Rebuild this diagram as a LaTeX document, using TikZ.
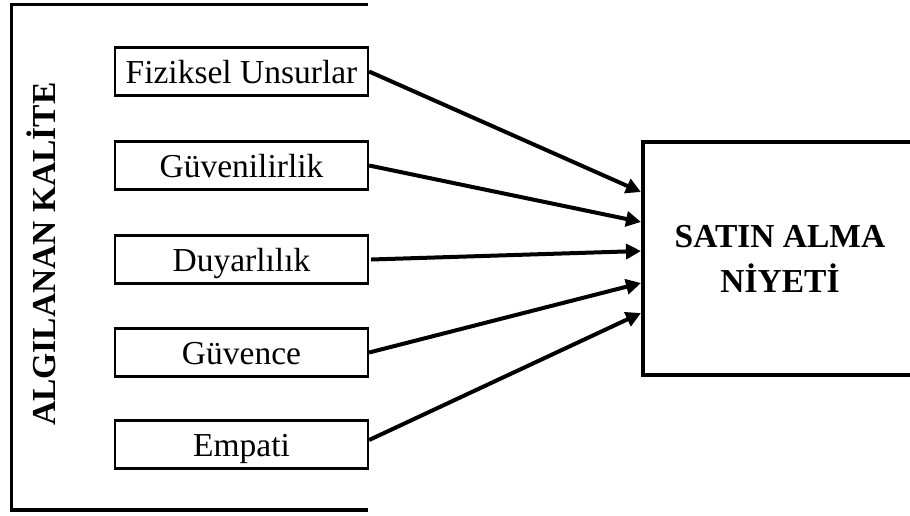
\documentclass[tikz,border=0pt]{standalone}
\usepackage{fontspec}
\setmainfont{Liberation Serif}
\usetikzlibrary{arrows.meta}
\begin{document}
\begin{tikzpicture}[x=0.5pt,y=-0.5pt,
  dim/.style={draw, line width=1.1pt, minimum width=126.5pt, minimum height=24pt,
    inner sep=0pt, text height=11.5pt, text depth=0pt,
    font=\fontsize{16.75}{20}\selectfont},
  arr/.style={line width=2pt, -{Triangle[length=7.5pt,width=7.5pt]}},
  frame/.style={line width=1.6pt},
  target/.style={draw, line width=1.6pt, minimum width=137pt, minimum height=116.5pt,
    inner sep=0pt, align=center, font=\bfseries\fontsize{16.75}{22.5}\selectfont},
  sidelabel/.style={rotate=90, anchor=base, inner sep=0pt,
    font=\bfseries\fontsize{16.75}{20}\selectfont}]
\useasboundingbox (0,0) rectangle (910,515);
% outer open frame
\draw[frame] (368,4.5) -- (11.5,4.5) -- (11.5,510) -- (368,510);
\node[sidelabel] (lab) at (55,254) {ALGILANAN KALİTE};
% dimension boxes
\node[dim] (d1) at (241.5,71.5) {Fiziksel Unsurlar};
\node[dim] (d2) at (241.5,165.5) {Güvenilirlik};
\node[dim] (d3) at (241.5,259.5) {Duyarlılık};
\node[dim] (d4) at (241.5,352.5) {Güvence};
\node[dim] (d5) at (241.5,444.5) {Empati};
% target box
\node[target] (sat) at (780,258.5) {SATIN ALMA\\NİYETİ};
% arrow end points on the target box
\coordinate (t1) at (641,192);
\coordinate (t2) at (641,222);
\coordinate (t3) at (641,251);
\coordinate (t4) at (641,283);
\coordinate (t5) at (641,313);
\draw[arr] (d1.east) -- (t1);
\draw[arr] (d2.east) -- (t2);
\draw[arr] ([xshift=1pt]d3.east) -- (t3);
\draw[arr] (d4.east) -- (t4);
\draw[arr] ([yshift=2.25pt]d5.east) -- (t5);
\end{tikzpicture}
\end{document}
